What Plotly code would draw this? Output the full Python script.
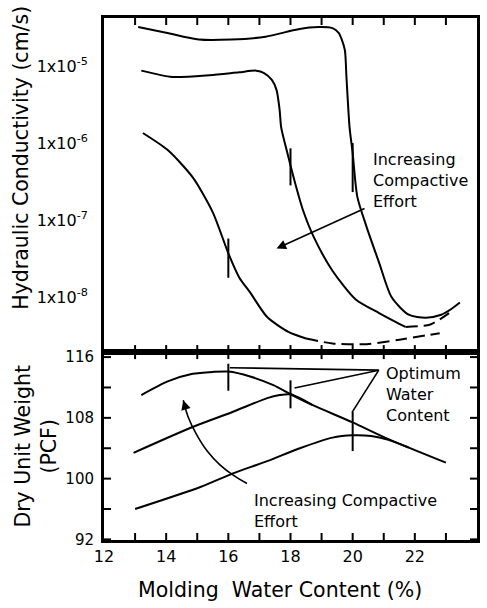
import math
import plotly.graph_objects as go

# ---------------- data: hydraulic conductivity (upper panel) ----------------
w_a = [13.1, 14.0, 15.05, 16.1, 17.2, 18.25, 18.9, 19.35, 19.55, 19.65, 19.75, 19.8,
       19.9, 20.0, 20.15, 20.45, 20.85, 21.25, 21.8, 22.35, 22.85, 23.15, 23.45]
k_a = [3.2e-5, 2.7e-5, 2.2e-5, 2.2e-5, 2.4e-5, 3.0e-5, 3.2e-5, 3.1e-5, 2.7e-5, 2.2e-5,
       1.6e-5, 7.2e-6, 1.6e-6, 7.4e-7, 2.0e-7, 8.1e-8, 2.8e-8, 1.0e-8, 5.9e-9, 5.4e-9,
       5.9e-9, 6.9e-9, 8.5e-9]

w_b = [13.2, 14.2, 15.4, 16.35, 16.9, 17.15, 17.4, 17.55, 17.65, 17.7, 17.9, 18.15,
       18.4, 18.75, 19.35, 20.1, 20.85, 21.5, 21.7]
k_b = [8.7e-6, 7.2e-6, 7.6e-6, 8.3e-6, 8.7e-6, 8.1e-6, 6.6e-6, 4.9e-6, 2.7e-6, 1.6e-6,
       7.4e-7, 3.0e-7, 1.35e-7, 6.0e-8, 2.2e-8, 9.3e-9, 6.2e-9, 4.5e-9, 4.1e-9]
w_b_dash = [21.7, 22.5, 23.1]
k_b_dash = [4.1e-9, 4.4e-9, 6.2e-9]

w_c = [13.25, 14.05, 14.85, 15.5, 16.0, 16.35, 16.7, 17.25, 17.95, 18.5]
k_c = [1.35e-6, 8.1e-7, 3.6e-7, 1.26e-7, 3.7e-8, 1.8e-8, 1.15e-8, 5.5e-9, 3.5e-9, 2.9e-9]
w_c_dash = [18.5, 19.35, 20.45, 21.5, 22.8]
k_c_dash = [2.9e-9, 2.5e-9, 2.45e-9, 2.8e-9, 3.4e-9]

opt_w = [16, 18, 20]
opt_k = [3.2e-8, 4.9e-7, 4.8e-7]

# ---------------- data: dry unit weight (lower panel) ----------------
w_l1 = [13.2, 14.05, 14.85, 15.5, 16.0, 16.7, 17.45, 18.05, 18.7, 20.0, 21.15, 23.0]
dw_l1 = [111.0, 112.8, 113.8, 114.05, 114.1, 113.45, 112.3, 111.0, 109.7, 107.4, 105.2, 102.1]
w_l2 = [12.95, 14.85, 16.15, 17.25, 17.65, 18.0, 18.7]
dw_l2 = [103.4, 106.8, 108.8, 110.6, 111.0, 111.1, 109.7]
w_l3 = [13.0, 15.1, 16.15, 17.25, 18.3, 19.35, 20.0, 20.6, 21.15, 21.8]
dw_l3 = [96.0, 98.9, 100.7, 102.3, 104.0, 105.4, 105.7, 105.6, 105.1, 104.1]

opt_dw = [113.35, 111.1, 106.2]

# leader lines of the "Optimum Water Content" label
lead_w = [20.84, 16.05, None, 20.84, 18.13, None, 20.84, 19.98]
lead_dw = [114.28, 114.6, None, 114.28, 111.92, None, 114.28, 108.72]

# curved "Increasing Compactive Effort" arrow (lower panel)
arc_w = [16.6, 16.18, 15.73, 15.32, 14.97, 14.71, 14.55]
arc_dw = [99.36, 100.39, 101.82, 103.64, 105.87, 108.09, 110.32]

# axis ranges / ticks
w_range = [12, 24]
w_ticks = list(range(12, 25))
k_range_log = [-8.714, -4.377]
k_ticks = [1e-8, 1e-7, 1e-6, 1e-5]
k_labels = ["1x10<sup>-8</sup>", "1x10<sup>-7</sup>", "1x10<sup>-6</sup>", "1x10<sup>-5</sup>"]
dw_range = [91.92, 116.66]
dw_ticks = [92, 96, 100, 104, 108, 112, 116]

# ---------------- figure ----------------
INK = "black"
FAM = "DejaVu Sans"
fig = go.Figure()

def line(x, y, xa, ya, dash="solid", width=2):
    fig.add_trace(go.Scatter(x=x, y=y, xaxis=xa, yaxis=ya, mode="lines",
                             line=dict(color=INK, width=width, dash=dash,
                                       shape="spline", smoothing=0.7)))

line(w_a, k_a, "x2", "y2")
line(w_b, k_b, "x2", "y2")
line(w_b_dash, k_b_dash, "x2", "y2", dash="12px,6px")
line(w_c, k_c, "x2", "y2")
line(w_c_dash, k_c_dash, "x2", "y2", dash="12px,6px")

fig.add_trace(go.Scatter(x=opt_w, y=opt_k, xaxis="x2", yaxis="y2", mode="markers",
                         marker=dict(symbol="line-ns", size=[28, 26.5, 35], color=INK,
                                     opacity=1, line=dict(color=INK, width=2))))

line(w_l1, dw_l1, "x", "y")
line(w_l2, dw_l2, "x", "y")
line(w_l3, dw_l3, "x", "y")
fig.add_trace(go.Scatter(x=opt_w, y=opt_dw, xaxis="x", yaxis="y", mode="markers",
                         marker=dict(symbol="line-ns", size=[19.3, 20, 27.9], color=INK,
                                     opacity=1, line=dict(color=INK, width=2))))
fig.add_trace(go.Scatter(x=lead_w, y=lead_dw, xaxis="x", yaxis="y", mode="lines",
                         line=dict(color=INK, width=1.6)))
fig.add_trace(go.Scatter(x=arc_w, y=arc_dw, xaxis="x", yaxis="y", mode="lines",
                         line=dict(color=INK, width=1.6, shape="spline")))

common = dict(showline=True, linewidth=3, linecolor="black", mirror=True,
              ticks="", showgrid=False, zeroline=False)

fig.update_layout(
    width=487, height=608,
    margin=dict(l=104, r=7, t=18, b=68),
    plot_bgcolor="white",
    showlegend=False,
    xaxis=dict(domain=[0, 1], range=w_range, anchor="y",
               tickmode="linear", tick0=w_range[0], dtick=2,
               tickfont=dict(family=FAM, size=16, color=INK), **common),
    xaxis2=dict(domain=[0, 1], range=w_range, anchor="y2", matches="x",
                showticklabels=False, **common),
    yaxis=dict(domain=[0, 0.36], range=dw_range, anchor="x",
               tickmode="linear", tick0=92, dtick=8, ticklabelstandoff=4,
               tickfont=dict(family=FAM, size=15, color=INK), **common),
    yaxis2=dict(domain=[0.36, 1], type="log", range=k_range_log, anchor="x2",
                tickmode="array", tickvals=k_ticks, ticktext=k_labels,
                ticklabelstandoff=10,
                tickfont=dict(family=FAM, size=16, color=INK), **common),
)

# inside tick marks on all four sides of both panels (placed on the axes' scales)
TL = 7
tick_line = dict(color=INK, width=2)
shapes = []
for xr, yr in (("x", "y domain"), ("x2", "y2 domain")):
    for v in w_ticks[1:-1]:
        shapes.append(dict(type="line", xref=xr, yref=yr, x0=v, x1=v,
                           ysizemode="pixel", yanchor=0, y0=0, y1=TL,
                           line=tick_line, layer="above"))
        shapes.append(dict(type="line", xref=xr, yref=yr, x0=v, x1=v,
                           ysizemode="pixel", yanchor=1, y0=0, y1=-TL,
                           line=tick_line, layer="above"))
for v in dw_ticks:
    for anchor, length in ((0, TL), (1, -TL)):
        shapes.append(dict(type="line", xref="x domain", yref="y", y0=v, y1=v,
                           xsizemode="pixel", xanchor=anchor, x0=0, x1=length,
                           line=tick_line, layer="above"))
for v in k_ticks:
    lv = math.log10(v)
    for anchor, length in ((0, TL), (1, -TL)):
        shapes.append(dict(type="line", xref="x2 domain", yref="y2", y0=lv, y1=lv,
                           xsizemode="pixel", xanchor=anchor, x0=0, x1=length,
                           line=tick_line, layer="above"))
fig.update_layout(shapes=shapes)

def text(size):
    return dict(family=FAM, size=size, color=INK)

ann = []
# axis titles
ann.append(dict(text="Molding  Water Content (%)", xref="paper", yref="paper",
                x=0.473, y=-0.0958, xanchor="center", yanchor="middle",
                showarrow=False, font=text(20.5)))
ann.append(dict(text="Hydraulic Conductivity (cm/s)", xref="paper", yref="paper",
                x=-0.223, y=0.732, xanchor="center", yanchor="middle", textangle=-90,
                showarrow=False, font=text(20.5)))
ann.append(dict(text="Dry Unit Weight<br>(PCF)", xref="paper", yref="paper",
                x=-0.1835, y=0.180, xanchor="center", yanchor="middle", textangle=-90,
                showarrow=False, font=text(20.5)))
# in-plot labels
ann.append(dict(text="Increasing<br>Compactive<br>Effort", xref="x2", yref="y2",
                x=20.59, y=-6.49, xanchor="left", yanchor="middle", align="left",
                showarrow=False, font=text(16)))
ann.append(dict(text="", xref="x2", yref="y2", x=17.55, y=-7.37,
                axref="x2", ayref="y2", ax=20.43, ay=-6.84,
                showarrow=True, arrowhead=2, arrowsize=1.2, arrowwidth=1.6,
                arrowcolor=INK, standoff=0))
ann.append(dict(text="Optimum<br>Water<br>Content", xref="x", yref="y",
                x=21.0, y=111.1, xanchor="left", yanchor="middle", align="left",
                showarrow=False, font=text(16)))
ann.append(dict(text="Increasing Compactive<br>Effort", xref="x", yref="y",
                x=16.75, y=95.8, xanchor="left", yanchor="middle", align="left",
                showarrow=False, font=text(16)))
ann.append(dict(text="", xref="x", yref="y", x=14.55, y=110.32,
                axref="x", ayref="y", ax=14.63, ay=109.2,
                showarrow=True, arrowhead=2, arrowsize=1.2, arrowwidth=1.6,
                arrowcolor=INK, standoff=0))
fig.update_layout(annotations=ann)

fig.write_html("out.html")
